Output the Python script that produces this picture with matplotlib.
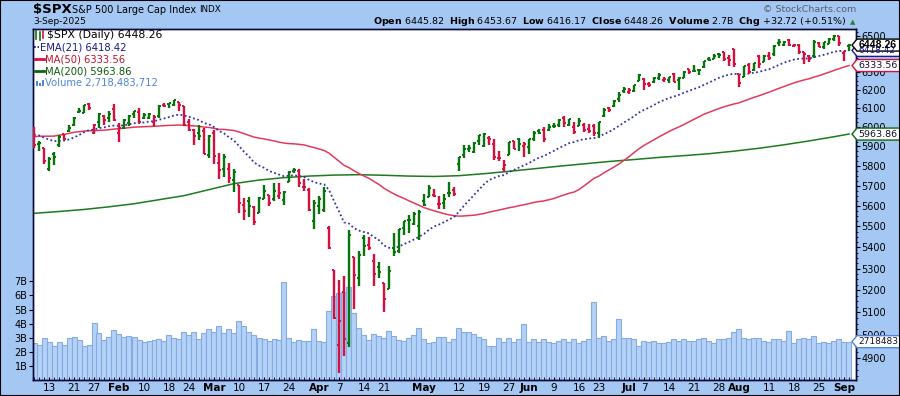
import matplotlib
matplotlib.use("Agg")
import matplotlib.pyplot as plt
import numpy as np
import pandas as pd
from matplotlib.lines import Line2D
from matplotlib.patches import Polygon, Rectangle
from matplotlib.ticker import FixedLocator, NullFormatter

plt.rcParams["font.family"] = ["DejaVu Sans"]
plt.rcParams["mathtext.fontset"] = "dejavusans"

W, H = 900, 396

# closes before the visible window (warm-up for EMA(21) / MA(50))
closes_prev = [5808.12, 5823.52, 5832.92, 5813.67, 5705.45, 5728.80, 5712.69, 5782.76, 5929.04, 5973.10,
               5995.54, 6001.35, 5983.99, 5985.38, 5949.17, 5870.62, 5893.62, 5916.98, 5917.11, 5948.71,
               5969.34, 5987.37, 6021.63, 5998.74, 6032.38, 6047.15, 6049.88, 6086.49, 6075.11, 6090.27,
               6052.85, 6034.91, 6084.19, 6051.25, 6051.09, 6074.08, 6050.61, 5872.16, 5867.08, 5930.85,
               5974.07, 6040.04, 6037.59, 5970.84, 5906.94, 5881.63, 5868.55, 5942.47, 5975.38]

# daily bars 7-Jan-2025 .. 3-Sep-2025
opens = [5993.26, 5910.66, 5890.86, 5782.00, 5859.00, 5905.00, 5963.00, 5979.00, 6014.00, 6081.00,
         6076.00, 6121.00, 5969.00, 6026.00, 6057.00, 6050.80, 6096.80, 5969.60, 5998.00, 6020.50,
         6072.20, 6083.10, 6046.40, 6049.30, 6025.10, 6060.60, 6115.50, 6121.60, 6117.80, 6134.50,
         6114.10, 6026.70, 5982.70, 5970.90, 5981.90, 5856.70, 5968.30, 5811.98, 5781.40, 5785.90,
         5726.00, 5705.40, 5603.70, 5624.80, 5594.50, 5563.90, 5635.60, 5654.50, 5632.40, 5646.90,
         5630.70, 5718.10, 5775.90, 5771.70, 5695.60, 5679.10, 5527.90, 5597.50, 5580.80, 5492.70,
         5292.10, 4953.80, 5193.60, 4965.30, 5353.20, 5255.60, 5441.96, 5411.99, 5335.80, 5305.50,
         5232.90, 5207.70, 5395.90, 5381.40, 5489.70, 5529.20, 5508.90, 5499.40, 5625.10, 5645.60,
         5655.30, 5606.60, 5614.50, 5663.10, 5679.40, 5807.70, 5854.20, 5886.30, 5869.80, 5929.10,
         5902.90, 5944.70, 5910.40, 5841.30, 5781.90, 5854.10, 5925.10, 5939.90, 5903.70, 5896.70,
         5938.60, 5978.90, 5985.70, 5987.10, 6004.60, 6009.90, 6049.40, 6009.90, 6000.60, 6004.00,
         6012.20, 5987.90, 6004.20, 5969.70, 6061.20, 6104.10, 6112.10, 6150.70, 6193.40, 6187.30,
         6193.00, 6246.50, 6259.80, 6233.40, 6240.70, 6266.00, 6255.70, 6255.20, 6287.80, 6253.10,
         6263.40, 6312.00, 6304.70, 6306.60, 6326.90, 6368.60, 6370.00, 6397.70, 6409.30, 6374.40,
         6427.00, 6287.30, 6271.70, 6336.20, 6309.30, 6389.20, 6351.00, 6389.60, 6397.90, 6460.70,
         6448.20, 6478.90, 6445.00, 6446.40, 6408.90, 6386.60, 6386.30, 6457.70, 6437.10, 6457.20,
         6483.60, 6500.20, 6401.50, 6445.82]
highs = [6000.68, 5927.89, 5890.86, 5844.00, 5871.90, 5960.60, 5964.70, 6014.00, 6051.50, 6100.80,
         6118.70, 6128.20, 6017.00, 6074.50, 6062.80, 6086.60, 6120.90, 6022.10, 6042.50, 6062.90,
         6084.00, 6101.30, 6073.40, 6076.30, 6063.00, 6116.90, 6127.50, 6129.60, 6147.40, 6134.50,
         6114.80, 6043.70, 5992.70, 6009.80, 5993.70, 5959.40, 5986.10, 5865.10, 5860.60, 5812.10,
         5783.00, 5705.40, 5636.30, 5642.20, 5597.80, 5645.30, 5703.50, 5654.50, 5715.30, 5711.20,
         5670.80, 5775.10, 5786.95, 5783.60, 5732.30, 5685.90, 5627.60, 5650.60, 5695.30, 5499.50,
         5292.10, 5246.60, 5267.50, 5481.30, 5353.20, 5381.50, 5459.50, 5450.40, 5367.20, 5328.30,
         5232.90, 5309.60, 5469.70, 5489.40, 5528.10, 5553.70, 5571.95, 5581.80, 5658.90, 5700.70,
         5683.60, 5649.60, 5660.40, 5720.10, 5691.70, 5844.20, 5906.60, 5906.00, 5924.20, 5958.60,
         5968.60, 5953.10, 5938.40, 5878.10, 5829.50, 5924.30, 5929.00, 5943.10, 5922.10, 5937.40,
         5981.40, 5990.50, 5999.70, 6016.90, 6021.30, 6043.00, 6059.40, 6045.40, 6026.20, 6050.80,
         6023.30, 6018.20, 6018.20, 6028.80, 6101.80, 6108.50, 6146.50, 6187.70, 6215.10, 6210.80,
         6227.60, 6284.70, 6262.60, 6242.70, 6269.80, 6290.20, 6269.40, 6270.50, 6291.70, 6268.30,
         6304.30, 6315.60, 6336.10, 6316.10, 6360.60, 6381.30, 6395.80, 6401.10, 6409.30, 6394.60,
         6427.00, 6287.30, 6330.00, 6346.40, 6349.20, 6395.20, 6395.20, 6411.50, 6446.50, 6480.30,
         6473.90, 6481.30, 6455.40, 6456.60, 6408.90, 6393.20, 6478.60, 6466.90, 6468.20, 6486.90,
         6508.20, 6500.20, 6416.50, 6453.67]
lows = [5890.68, 5874.78, 5809.30, 5773.31, 5805.80, 5895.70, 5931.00, 5973.00, 6006.90, 6076.00,
        6074.70, 6088.70, 5962.90, 5994.60, 6012.90, 6027.50, 6030.90, 5923.90, 5990.90, 6007.10,
        6046.80, 6019.90, 6044.80, 6042.30, 6003.00, 6051.00, 6107.60, 6099.50, 6111.20, 6084.60,
        6008.60, 5977.80, 5908.50, 5932.70, 5858.80, 5837.70, 5810.90, 5732.60, 5742.40, 5711.60,
        5666.30, 5564.00, 5528.40, 5546.10, 5504.70, 5563.90, 5631.10, 5597.80, 5622.20, 5632.30,
        5603.10, 5718.10, 5764.10, 5695.50, 5670.90, 5572.40, 5488.70, 5558.50, 5571.50, 5390.80,
        5069.90, 4835.00, 4910.40, 4948.00, 5115.30, 5220.80, 5358.00, 5386.40, 5220.80, 5255.60,
        5101.60, 5207.70, 5356.60, 5371.96, 5455.90, 5468.60, 5505.70, 5433.20, 5597.40, 5645.60,
        5643.90, 5585.30, 5584.80, 5644.60, 5650.70, 5775.10, 5840.30, 5868.90, 5867.40, 5907.40,
        5895.70, 5909.30, 5830.90, 5825.80, 5767.40, 5854.10, 5886.80, 5873.80, 5843.70, 5861.40,
        5929.00, 5966.10, 5921.20, 5978.60, 5994.20, 6000.30, 6002.30, 6003.90, 5963.20, 6004.00,
        5974.80, 5971.90, 5952.60, 5943.20, 6055.70, 6080.10, 6107.30, 6132.40, 6183.50, 6177.97,
        6188.30, 6246.50, 6201.70, 6217.90, 6237.00, 6251.80, 6242.50, 6237.50, 6242.80, 6201.60,
        6263.40, 6285.30, 6303.80, 6281.70, 6317.50, 6360.60, 6368.50, 6375.90, 6360.10, 6331.60,
        6327.10, 6212.70, 6271.70, 6289.20, 6303.80, 6317.60, 6351.00, 6364.90, 6385.60, 6445.00,
        6441.80, 6441.10, 6437.50, 6400.20, 6343.90, 6353.60, 6377.00, 6438.10, 6429.00, 6452.50,
        6469.60, 6445.10, 6360.60, 6416.17]
closes = [5909.03, 5918.25, 5827.04, 5836.22, 5842.91, 5949.91, 5937.34, 5996.66, 6049.24, 6086.37,
          6118.71, 6101.24, 6012.28, 6067.70, 6039.31, 6071.17, 6040.53, 5994.57, 6037.88, 6061.48,
          6083.57, 6025.99, 6066.44, 6068.50, 6051.97, 6115.07, 6114.63, 6129.58, 6144.15, 6117.52,
          6013.13, 5983.25, 5955.25, 5956.06, 5861.57, 5954.50, 5849.72, 5778.15, 5842.63, 5738.52,
          5770.20, 5614.56, 5572.07, 5599.30, 5521.52, 5638.94, 5675.12, 5614.66, 5675.29, 5662.89,
          5667.56, 5767.57, 5776.65, 5712.20, 5693.31, 5580.94, 5611.85, 5633.07, 5670.97, 5396.52,
          5074.08, 5062.25, 4982.77, 5456.90, 5268.05, 5363.36, 5405.97, 5396.63, 5275.70, 5282.70,
          5158.20, 5287.76, 5375.86, 5484.77, 5525.21, 5528.75, 5560.83, 5569.06, 5604.14, 5686.67,
          5650.38, 5606.91, 5631.28, 5663.94, 5659.91, 5844.19, 5886.55, 5892.58, 5916.93, 5958.38,
          5963.60, 5940.46, 5844.61, 5842.01, 5802.82, 5921.54, 5888.55, 5912.17, 5911.69, 5935.94,
          5970.37, 5970.81, 5939.30, 6000.36, 6005.88, 6038.81, 6022.24, 6045.26, 5976.97, 6033.11,
          5982.72, 5980.87, 5967.84, 6025.17, 6092.18, 6092.16, 6141.02, 6173.07, 6204.95, 6198.01,
          6227.42, 6279.35, 6229.98, 6225.52, 6263.26, 6280.46, 6259.75, 6268.56, 6243.76, 6263.70,
          6297.36, 6296.79, 6305.60, 6309.62, 6358.91, 6363.35, 6388.64, 6389.77, 6370.86, 6362.90,
          6339.39, 6238.01, 6329.94, 6299.19, 6345.06, 6340.00, 6389.45, 6373.45, 6445.76, 6466.58,
          6468.54, 6449.80, 6449.15, 6411.37, 6395.78, 6370.17, 6466.91, 6439.32, 6465.94, 6481.40,
          6501.86, 6460.26, 6415.54, 6448.26]
volume_b = [2.65, 2.49, 2.99, 2.70, 2.40, 2.70, 2.49, 2.99, 3.06, 2.82,
            2.40, 2.49, 4.03, 3.35, 2.82, 3.06, 3.56, 3.27, 3.06, 3.13,
            3.06, 2.82, 2.70, 2.75, 2.82, 2.89, 2.75, 3.20, 2.99, 2.92,
            3.42, 3.20, 3.42, 2.92, 3.30, 3.60, 3.40, 3.80, 3.30, 3.60,
            3.30, 4.20, 3.80, 3.40, 3.20, 3.00, 2.90, 2.80, 2.90, 2.85,
            6.97, 2.97, 2.70, 2.82, 2.75, 2.75, 3.60, 2.75, 2.70, 4.90,
            5.96, 6.17, 6.24, 6.60, 4.75, 3.68, 3.20, 2.85, 3.27, 3.10,
            3.00, 3.47, 3.13, 2.85, 2.80, 2.97, 3.20, 3.68, 2.90, 2.61,
            2.70, 3.04, 3.08, 2.68, 2.90, 3.68, 3.44, 3.39, 3.27, 3.08,
            2.92, 2.42, 2.42, 2.97, 2.70, 3.00, 2.70, 2.90, 4.00, 2.70,
            2.90, 2.70, 2.90, 2.70, 2.60, 2.80, 2.90, 2.70, 2.90, 2.60,
            2.80, 2.90, 5.50, 3.00, 3.10, 2.80, 2.90, 4.30, 3.00, 3.00,
            2.90, 2.40, 2.80, 2.70, 2.80, 2.60, 2.60, 2.70, 2.90, 2.80,
            2.90, 2.80, 2.80, 2.90, 3.00, 2.80, 2.60, 2.90, 2.90, 3.00,
            3.40, 3.60, 3.00, 2.90, 3.00, 3.00, 2.80, 2.70, 2.90, 2.90,
            2.80, 3.50, 2.60, 2.90, 3.00, 2.90, 3.10, 2.60, 2.70, 2.60,
            2.80, 2.90, 2.70, 2.72]

# MA(200), one reading per week
ma200_idx = [0, 5, 10, 15, 20, 25, 30, 35, 40, 45, 50, 55, 60, 65, 70, 75, 80,
             85, 90, 95, 100, 105, 110, 115, 120, 125, 130, 135, 140, 145, 150, 155, 160, 163]
ma200_val = [5563, 5572, 5582, 5595, 5610, 5630, 5650, 5680, 5710, 5728, 5740, 5748, 5753, 5755, 5752, 5748, 5746,
             5750, 5760, 5772, 5785, 5798, 5810, 5822, 5832, 5843, 5852, 5862, 5875, 5890, 5908, 5928, 5950, 5964]

holidays = ["2025-01-09", "2025-01-20", "2025-02-17", "2025-04-18",
            "2025-05-26", "2025-06-19", "2025-07-04", "2025-09-01"]
xlabel_dates = ["2025-01-13", "2025-01-21", "2025-01-27", "2025-02-03", "2025-02-10", "2025-02-18",
                "2025-02-24", "2025-03-03", "2025-03-10", "2025-03-17", "2025-03-24", "2025-04-01",
                "2025-04-07", "2025-04-14", "2025-04-21", "2025-05-01", "2025-05-12", "2025-05-19",
                "2025-05-27", "2025-06-02", "2025-06-09", "2025-06-16", "2025-06-23", "2025-07-01",
                "2025-07-07", "2025-07-14", "2025-07-21", "2025-07-28", "2025-08-01", "2025-08-11",
                "2025-08-18", "2025-08-25", "2025-09-02"]
xlabel_text = ["13", "21", "27", "Feb", "10", "18", "24", "Mar", "10", "17", "24", "Apr", "7", "14", "21",
               "May", "12", "19", "27", "Jun", "9", "16", "23", "Jul", "7", "14", "21", "28", "Aug",
               "11", "18", "25", "Sep"]
price_ticks = list(range(4900, 6600, 100))
hidden_price_labels = [6400]   # fully covered by the value tags on the reference

last_close = 6448.26
ema_last = 6418.42
ma50_last = 6333.56
ma200_last = 5963.86
vol_last = 2718483712

BG = "#a4c8f3"
GREEN = "#06730b"
RED = "#d6103e"

dates = pd.bdate_range("2025-01-07", "2025-09-03")
dates = dates[~dates.isin(pd.to_datetime(holidays))]
x = np.arange(len(closes))

allc = pd.Series(closes_prev + closes)
ema21 = allc.ewm(span=21, adjust=False).mean().values[len(closes_prev):]
ma50 = allc.rolling(50).mean().values[len(closes_prev):]

prev = np.array([closes_prev[-1]] + closes[:-1])
up = np.array(closes) >= prev
cols = [GREEN if u else RED for u in up]

fig = plt.figure(figsize=(W / 100, H / 100), dpi=100)
fig.patch.set_facecolor(BG)

ax = fig.add_axes([33 / W, 1 - 380 / H, 823 / W, 351 / H])
ax.set_facecolor("white")
ax.bar(x, volume_b, width=1.0, color="#b4d2f7", edgecolor="#86abe0", linewidth=0.8, zorder=1)
ax.set_ylim(0, 24.9)
ax.set_xlim(-0.2, 164.4)

axp = ax.twinx()
axp.set_yscale("log")
axp.plot(ma200_idx, ma200_val, color="#1d7a1d", lw=1.1, zorder=2)
axp.plot(x, ma50, color="#e33a5c", lw=1.1, zorder=2)
axp.plot(x, ema21, color="#3434a6", lw=1.3, ls=(0, (1, 1.4)), zorder=2)
axp.vlines(x, lows, highs, colors=cols, lw=1.7, zorder=3)
axp.hlines(opens, x - 0.45, x, colors=cols, lw=1.4, zorder=3)
axp.hlines(closes, x, x + 0.45, colors=cols, lw=1.4, zorder=3)
axp.set_ylim(4806, 6540)

axp.yaxis.set_major_locator(FixedLocator(price_ticks))
axp.set_yticklabels(["" if t in hidden_price_labels else str(t) for t in price_ticks])
axp.yaxis.set_minor_locator(FixedLocator(list(range(4825, 6540, 25))))
axp.yaxis.set_minor_formatter(NullFormatter())
axp.tick_params(axis="y", which="major", length=3, pad=1, labelsize=7, colors="#000000")
axp.tick_params(axis="y", which="minor", length=1.5)

ax.set_yticks([1, 2, 3, 4, 5, 6, 7])
ax.set_yticklabels([f"{v}B" for v in range(1, 8)])
ax.tick_params(axis="y", length=3, pad=1, labelsize=7)

ax.set_xticks([dates.get_loc(pd.Timestamp(d)) for d in xlabel_dates])
ax.set_xticklabels(xlabel_text)
for lbl in ax.get_xticklabels():
    if not lbl.get_text().isdigit():
        lbl.set_fontweight("bold")
ax.set_xticks(x, minor=True)
ax.tick_params(axis="x", which="both", length=2, direction="in", pad=2, labelsize=7.5)

for a in (ax, axp):
    for sp in a.spines.values():
        sp.set_color("#0a0a3a")
        sp.set_linewidth(1)


def fxy(px, py):
    return px / W, 1 - py / H


# header
fig.text(*fxy(33, 10), "$SPX", fontsize=9.5, fontweight="bold", va="center")
fig.text(*fxy(72, 10), "S&P 500 Large Cap Index", fontsize=7, va="center")
fig.text(*fxy(199, 10), "INDX", fontsize=6.3, va="center")
fig.text(*fxy(33, 22), "3-Sep-2025", fontsize=6.6, va="center")
fig.text(*fxy(856, 9), "\u00a9 StockCharts.com", fontsize=6.8, va="center", ha="right", color="#55606c")
hdr = (r"$\mathbf{Open}$ 6445.82  $\mathbf{High}$ 6453.67  $\mathbf{Low}$ 6416.17  "
       r"$\mathbf{Close}$ 6448.26  $\mathbf{Volume}$ 2.7B  $\mathbf{Chg}$ +32.72 (+0.51%)")
fig.text(*fxy(847, 22), hdr, fontsize=6.8, va="center", ha="right")
fig.text(*fxy(853, 22), "\u25b2", fontsize=5, va="center", ha="center", color="#2e7d32")

# legend block inside the plot
fig.text(*fxy(47, 35), f"$SPX (Daily) {last_close:.2f}", fontsize=7.8, va="center")
fig.add_artist(Line2D([36 / W, 36 / W], [1 - 31 / H, 1 - 39 / H], color=GREEN, lw=1.2))
fig.add_artist(Line2D([40 / W, 40 / W], [1 - 32 / H, 1 - 40 / H], color=GREEN, lw=1.2))
fig.add_artist(Line2D([43 / W, 43 / W], [1 - 31 / H, 1 - 38 / H], color=RED, lw=1.2))
fig.text(*fxy(40, 47), f"EMA(21) {ema_last:.2f}", fontsize=7.2, va="center", color="#1a1a8c")
fig.add_artist(Line2D([34 / W, 39 / W], [1 - 47 / H] * 2, color="#1a1a8c", lw=1.3, ls=(0, (1, 1))))
fig.text(*fxy(45, 59), f"MA(50) {ma50_last:.2f}", fontsize=7.2, va="center", color="#c8102e")
fig.add_artist(Line2D([35 / W, 44 / W], [1 - 59 / H] * 2, color=RED, lw=2))
fig.text(*fxy(45, 71), f"MA(200) {ma200_last:.2f}", fontsize=7.2, va="center", color="#0a5a0a")
fig.add_artist(Line2D([35 / W, 44 / W], [1 - 71 / H] * 2, color="#0a6a0a", lw=2))
fig.text(*fxy(45, 83), f"Volume {vol_last:,}", fontsize=7.2, va="center", color="#4f86d8")
for bx, bh in ((36, 5), (39, 3), (42, 6)):
    fig.add_artist(Rectangle((bx / W, 1 - 86 / H), 2 / W, bh / H, transform=fig.transFigure,
                             facecolor="#4f86d8", edgecolor="none"))


def tag(axis, value, text, edge, tcolor, bold=False, size=7):
    ypix = H - axis.transData.transform((0, value))[1]
    pts = [(852, ypix), (857, ypix - 6), (902, ypix - 6), (902, ypix + 6), (857, ypix + 6)]
    fig.add_artist(Polygon([fxy(px, py) for px, py in pts], closed=True, transform=fig.transFigure,
                           facecolor="white", edgecolor=edge, lw=1))
    if bold:
        fig.text(*fxy(859, ypix), text, fontsize=size, fontweight="bold", family="Liberation Sans",
                 va="center", color=tcolor)
    else:
        fig.text(*fxy(858, ypix), text, fontsize=size, va="center", color=tcolor)


tag(axp, ema_last, f"{ema_last:.2f}", "#1a1a8c", "#1a1a8c", size=6.5)
tag(axp, last_close, f"{last_close:.2f}", "#000000", "#000000", bold=True, size=7.6)
tag(axp, ma50_last, f"{ma50_last:.2f}", RED, "#101030", size=6.8)
tag(axp, ma200_last, f"{ma200_last:.2f}", "#0a6a0a", "#101030", size=6.8)
tag(ax, vol_last / 1e9, str(vol_last)[:7], "#4f86d8", "#101030", size=6.5)

fig.add_artist(Rectangle((0, 0), 1, 1, transform=fig.transFigure, fill=False, edgecolor="#000000", lw=1.5))

fig.savefig("out.png", dpi=100, facecolor=BG)
